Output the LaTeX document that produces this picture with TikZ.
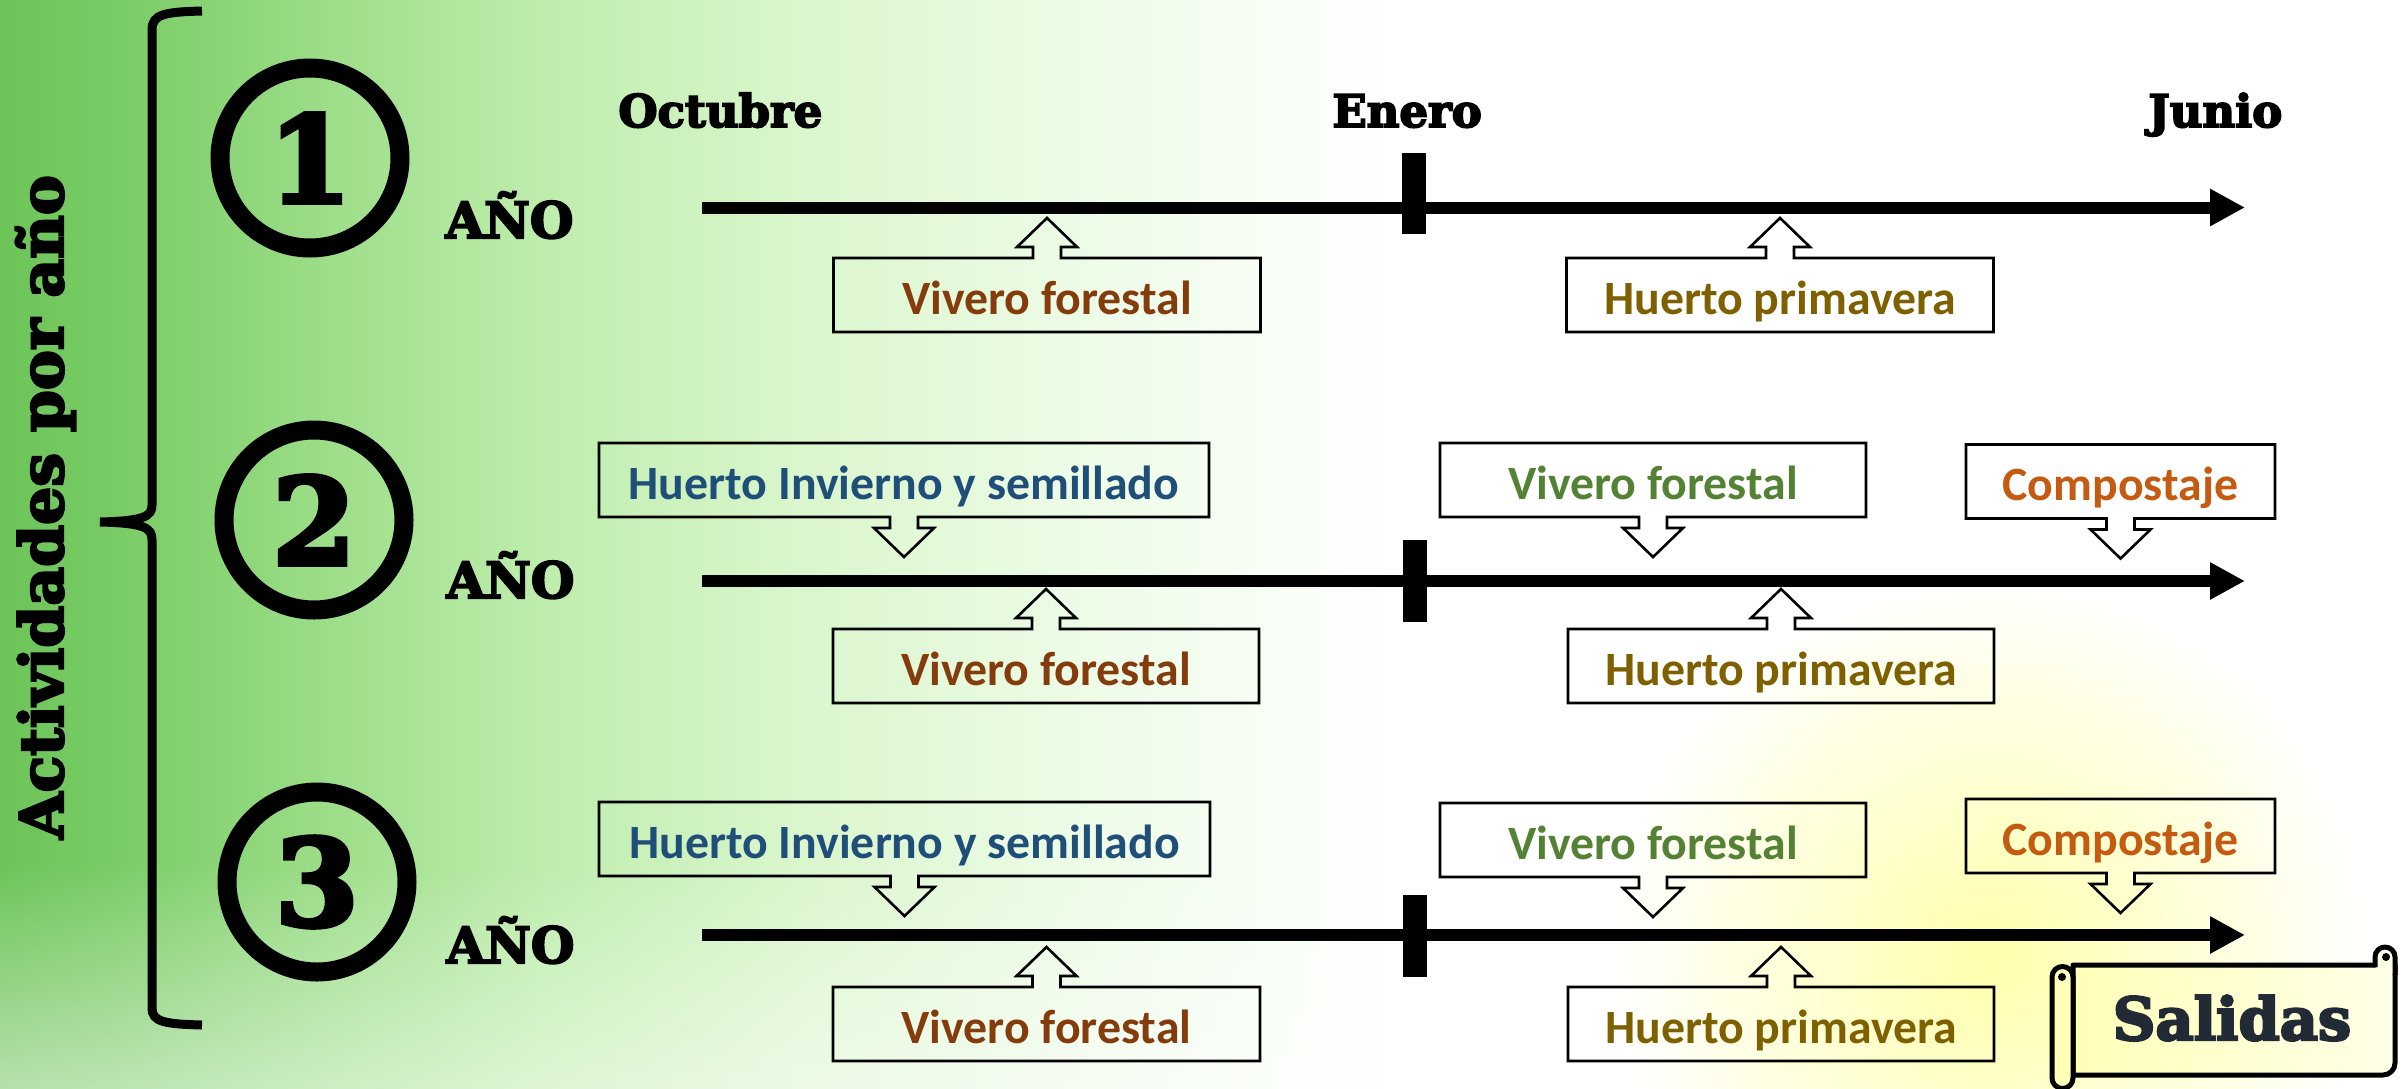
\documentclass[tikz,border=0pt]{standalone}
\usepackage{fontspec}
\newfontfamily\heavy{DejaVu Serif}[BoldFeatures={FakeBold=4}]
\newfontfamily\cali{Carlito}
\usetikzlibrary{arrows.meta,calc,fadings}
\definecolor{cbrown}{HTML}{843C0C}
\definecolor{colive}{HTML}{7F6000}
\definecolor{cblue}{HTML}{1F4E79}
\definecolor{cgreen}{HTML}{548235}
\definecolor{corange}{HTML}{C55A11}
\definecolor{cnavy}{HTML}{222A35}
\definecolor{g0}{RGB}{108,196,88}
\definecolor{g1}{RGB}{122,204,102}
\definecolor{g2}{RGB}{155,221,135}
\definecolor{g3}{RGB}{190,237,172}
\definecolor{g4}{RGB}{218,246,205}
\definecolor{g5}{RGB}{238,252,232}
\definecolor{glow}{RGB}{255,255,172}
\definecolor{scrollA}{RGB}{255,255,185}
\definecolor{scrollB}{RGB}{255,255,232}
\newcommand\upcall[1]{\draw[callline] (#1.north west) -- ($(#1.north)+(-14,0)$) -- ++(0,-11) -- ++(-16,0) -- ($(#1.north)+(0,-40)$) -- ($(#1.north)+(30,-11)$) -- ++(-16,0) -- ++(0,11) -- (#1.north east) -- (#1.south east) -- (#1.south west) -- cycle;}
\newcommand\downcall[1]{\draw[callline] (#1.south west) -- ($(#1.south)+(-14,0)$) -- ++(0,11) -- ++(-16,0) -- ($(#1.south)+(0,40)$) -- ($(#1.south)+(30,11)$) -- ++(-16,0) -- ++(0,-11) -- (#1.south east) -- (#1.north east) -- (#1.north west) -- cycle;}
\begin{document}
\begin{tikzpicture}[x=0.5pt,y=-0.5pt,
  callbox/.style={draw=none, inner sep=0pt, outer sep=0pt, minimum height=37pt,
    text height=19pt, text depth=0pt, font=\cali\bfseries\fontsize{23.9}{24}\selectfont},
  callline/.style={draw=black, line width=1.3pt, line join=miter},
  timeline/.style={line width=6pt, -{Triangle[length=17.5pt,width=17.5pt]}},
  tickmark/.style={line width=12pt},
  hdr/.style={font=\heavy\bfseries\fontsize{22.5}{24}\selectfont, inner sep=0pt, anchor=base west},
  ano/.style={font=\heavy\bfseries\fontsize{25}{26}\selectfont, inner sep=0pt, anchor=base west},
  numc/.style={circle, draw, line width=9.5pt, minimum size=90pt, inner sep=0pt,
    font=\heavy\bfseries\fontsize{60}{60}\selectfont},
  scroll/.style={draw=black, line width=2.5pt, line join=round}
]
\useasboundingbox (0,0) rectangle (2402,1088);
% background
\fill[white] (0,0) rectangle (2402,1088);
\shade[left color=g0, right color=g1] (0,0) rectangle (121,1088);
\shade[left color=g1, right color=g2] (120,0) rectangle (321,1088);
\shade[left color=g2, right color=g3] (320,0) rectangle (541,1088);
\shade[left color=g3, right color=g4] (540,0) rectangle (801,1088);
\shade[left color=g4, right color=g5] (800,0) rectangle (1101,1088);
\shade[left color=g5, right color=white] (1100,0) rectangle (1400,1088);
\fill[white, opacity=0.55, path fading=north] (-10,860) rectangle (1400,1110);
\shade[inner color=glow, outer color=white] (1990,955) circle[radius=380];

% brace and vertical title
\coordinate (bt) at (202,11);
\coordinate (bm) at (100,522);
\coordinate (bb) at (202,1025);
\draw[line width=4.5pt] (bt) .. controls (165,12) and (152,14) .. (152,30) -- (152,505)
  .. controls (152,516) and (145,521) .. (bm)
  .. controls (145,523) and (152,528) .. (152,540) -- (152,1008)
  .. controls (152,1022) and (165,1024) .. (bb);
\node[rotate=90, anchor=base, inner sep=0pt, font=\heavy\bfseries\fontsize{30}{30}\selectfont] (title) at (63,507) {Actividades por año};

% circled numbers and AÑO
\node[numc] (c1) at (310,158) {1};
\node[numc] (c2) at (314,520) {2};
\node[numc] (c3) at (317,882) {3};
\node[ano] (a1) at (445,238) {AÑO};
\node[ano] (a2) at (446,598) {AÑO};
\node[ano] (a3) at (446,963) {AÑO};

% month headers
\node[hdr] (oct) at (618,127) {Octubre};
\node[hdr] (ene) at (1332,127) {Enero};
\node[hdr] (jun) at (2148,127) {Junio};

% timelines
\coordinate (s1) at (702,207.5); \coordinate (e1) at (2245,207.5);
\coordinate (s2) at (702,581);   \coordinate (e2) at (2245,581);
\coordinate (s3) at (702,935);   \coordinate (e3) at (2245,935);
\draw[timeline] (s1) -- (e1);
\draw[timeline] (s2) -- (e2);
\draw[timeline] (s3) -- (e3);
\coordinate (k1a) at (1414,153); \coordinate (k1b) at (1414,234);
\coordinate (k2a) at (1415,540); \coordinate (k2b) at (1415,622);
\coordinate (k3a) at (1415,895); \coordinate (k3b) at (1415,977);
\draw[tickmark] (k1a) -- (k1b);
\draw[tickmark] (k2a) -- (k2b);
\draw[tickmark] (k3a) -- (k3b);

% row 1
\node[callbox, minimum width=213.5pt, text=cbrown] (v1) at (1047,295) {Vivero forestal};
\node[callbox, minimum width=213.5pt, text=colive] (h1) at (1780,295) {Huerto primavera};
\upcall{v1} \upcall{h1}

% row 2
\node[callbox, minimum width=305pt, text=cblue] (hi2) at (904,480) {Huerto Invierno y semillado};
\node[callbox, minimum width=213pt, text=cgreen] (vg2) at (1653,480) {Vivero forestal};
\node[callbox, minimum width=154.5pt, text=corange] (co2) at (2120.5,481.5) {Compostaje};
\node[callbox, minimum width=213pt, text=cbrown] (v2) at (1046,666) {Vivero forestal};
\node[callbox, minimum width=213pt, text=colive] (h2) at (1781,666) {Huerto primavera};
\downcall{hi2} \downcall{vg2} \downcall{co2}
\upcall{v2} \upcall{h2}

% row 3
\node[callbox, minimum width=305.5pt, text=cblue] (hi3) at (904.5,839) {Huerto Invierno y semillado};
\node[callbox, minimum width=213pt, text=cgreen] (vg3) at (1653,840) {Vivero forestal};
\node[callbox, minimum width=154.5pt, text=corange] (co3) at (2120.5,836) {Compostaje};
\node[callbox, minimum width=213.5pt, text=cbrown] (v3) at (1046.5,1024) {Vivero forestal};
\node[callbox, minimum width=213pt, text=colive] (h3) at (1781,1024) {Huerto primavera};
\downcall{hi3} \downcall{vg3} \downcall{co3}
\upcall{v3} \upcall{h3}

% Salidas scroll
\draw[scroll, left color=scrollA, right color=scrollB] (2073,965) -- (2395,965) -- (2395,1063)
  arc[start angle=0, end angle=90, radius=12] -- (2073,1075) -- cycle;
\draw[scroll, fill=scrollB] (2375,967) -- (2375,957) arc[start angle=180, end angle=360, radius=10] -- (2395,975);
\fill (2386,957) circle[radius=4];
\draw[scroll, fill=scrollA] (2052,977) arc[start angle=180, end angle=360, radius=10.5]
  -- (2073,1078) arc[start angle=0, end angle=180, radius=10.5] -- cycle;
\fill (2062,977) circle[radius=4];
\node[anchor=base, inner sep=0pt, text=cnavy, font=\heavy\bfseries\fontsize{29.5}{30}\selectfont] (sal) at (2232,1040) {Salidas};
\end{tikzpicture}
\end{document}
